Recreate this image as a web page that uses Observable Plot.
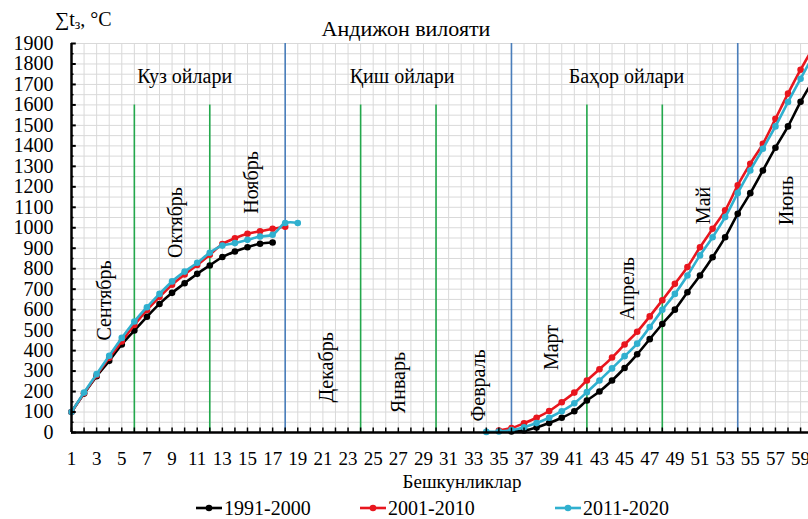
<!DOCTYPE html>
<html><head><meta charset="utf-8">
<script src="https://cdn.jsdelivr.net/npm/d3@7"></script>
<script src="https://cdn.jsdelivr.net/npm/@observablehq/plot@0.6"></script>
<style>
body{margin:0;background:#fff;font-family:"Liberation Serif","Times New Roman",Times,"DejaVu Serif",serif;}
#wrap{position:relative;width:808px;height:519px;overflow:hidden;background:#fff;}
#chart{position:absolute;left:0;top:0;}
.title{position:absolute;left:0;width:812px;top:18px;text-align:center;font-size:22px;line-height:22px;color:#000;}
.ylab{position:absolute;left:55px;top:8px;font-size:20px;line-height:22px;color:#000;}
.ylab sub{font-size:14px;vertical-align:-3px;}
.xlab{position:absolute;left:362px;width:200px;top:471px;text-align:center;font-size:19px;line-height:22px;}
.leg{position:absolute;top:497px;font-size:20px;line-height:22px;display:flex;align-items:center;}
.leg svg{margin-right:2px;}
</style></head><body>
<div id="wrap">
<div id="chart"></div>
<div class="title">Андижон вилояти</div>
<div class="ylab">∑t<sub>з</sub>, °C</div>
<div class="xlab">Бешкунликлар</div>
<div id="legend"></div>
</div>
<script>
const FONT = "'Liberation Serif','Times New Roman',Times,'DejaVu Serif',serif";
// Series
const seriesNames = ["1991-2000", "2001-2010", "2011-2020"];
const seriesColors = ["#000000", "#e8161e", "#30b0cf"];

// Autumn pentads (Sept-Nov)
const autumnPentads = [1,2,3,4,5,6,7,8,9,10,11,12,13,14,15,16,17,18,19];
const autumn1991 = [100,190,275,350,430,498,565,628,682,729,775,816,857,884,905,922,928];
const autumn2001 = [100,192,280,365,445,525,598,662,722,772,818,868,920,949,971,983,995,1005];
const autumn2011 = [100,195,285,375,462,542,612,677,738,786,829,878,913,925,941,957,966,1023,1023];

// Spring pentads (Feb-June)
const springPentads = [34,35,36,37,38,39,40,41,42,43,44,45,46,47,48,49,50,51,52,53,54,55,56,57,58,59,60];
const spring1991 = [null,null,5,10,25,46,72,104,156,200,254,315,382,456,530,600,685,767,856,954,1068,1169,1280,1391,1495,1615,1720];
const spring2001 = [null,10,22,45,72,105,148,195,254,309,366,430,492,567,646,726,808,905,995,1085,1207,1313,1410,1532,1655,1772,1880];
const spring2011 = [3,5,12,26,46,72,104,143,197,254,313,373,434,515,599,677,767,865,954,1052,1169,1280,1386,1495,1614,1728,1840];

// Period boundaries
const seasonBounds = [18, 36, 54];
const monthBounds = [6, 12, 24, 30, 42, 48];

// Annotations
const seasonNames = ["Куз ойлари", "Қиш ойлари", "Баҳор ойлари"];
const seasonX = [10, 27.3, 45.15];
const seasonY = [1740, 1740, 1740];
const monthNames = ["Сентябрь","Октябрь","Ноябрь","Декабрь","Январь","Февраль","Март","Апрель","Май","Июнь"];
const monthX = [3.6, 9.27, 15.3, 21.3, 27.0, 33.4, 39.2, 45.2, 51.3, 57.9];
const monthY = [645, 1026, 1221, 318, 244, 230, 415, 703, 1109, 1133];

// Axis ticks
const xTickLabels = d3.range(1, 60, 2);
const xTicks = d3.range(1, 61, 1);
const yTickLabels = d3.range(0, 1901, 100);
const yMinor = d3.range(50, 1900, 100);

// Build rows
const segs = [
  [seriesNames[0], "a", autumnPentads, autumn1991],
  [seriesNames[1], "a", autumnPentads, autumn2001],
  [seriesNames[2], "a", autumnPentads, autumn2011],
  [seriesNames[0], "s", springPentads, spring1991],
  [seriesNames[1], "s", springPentads, spring2001],
  [seriesNames[2], "s", springPentads, spring2011]
];
const rows = [];
for (const [s, part, xs, vs] of segs) {
  vs.forEach((v, i) => { if (v != null) rows.push({series: s, seg: s + part, x: xs[i], y: v}); });
}
const seasonRows = seasonNames.map((t, i) => ({t, x: seasonX[i], y: seasonY[i]}));
const monthRows = monthNames.map((t, i) => ({t, x: monthX[i], y: monthY[i]}));

const dataMarks = [];
for (const s of seriesNames) {
  const r = rows.filter(d => d.series === s);
  dataMarks.push(Plot.line(r, {x: "x", y: "y", z: "seg", stroke: "series", strokeWidth: 2.6, curve: "catmull-rom"}));
  dataMarks.push(Plot.dot(r, {x: "x", y: "y", fill: "series", r: 3.3}));
}

const chart = Plot.plot({
  width: 808, height: 492,
  marginLeft: 71, marginRight: 0, marginTop: 43, marginBottom: 60,
  x: {domain: [1, 59.63]},
  y: {domain: [0, 1900]},
  color: {domain: seriesNames, range: seriesColors},
  style: {fontFamily: FONT, background: "transparent", color: "#000"},
  marks: [
    Plot.ruleX(xTicks, {stroke: "#d9d9d9", strokeWidth: 1}),
    Plot.ruleY(d3.range(50, 1901, 50), {stroke: "#d9d9d9", strokeWidth: 1}),
    Plot.ruleX(seasonBounds, {y1: 0, y2: 1900, stroke: "#4a7ebb", strokeWidth: 1.6}),
    Plot.ruleX(monthBounds, {y1: 0, y2: 1600, stroke: "#23a84c", strokeWidth: 1.6}),
    Plot.text(seasonRows, {x: "x", y: "y", text: "t", fontSize: 20, fill: "#000", fontFamily: FONT}),
    Plot.text(monthRows, {x: "x", y: "y", text: "t", fontSize: 20, rotate: -90, fill: "#000", fontFamily: FONT}),
    ...dataMarks,
    Plot.ruleX(xTicks, {y1: 0, y2: 22, stroke: "#000", strokeWidth: 1.5}),
    Plot.ruleY(yTickLabels, {x1: 1, x2: 1.38, stroke: "#000", strokeWidth: 2}),
    Plot.ruleY(yMinor, {x1: 1, x2: 1.2, stroke: "#000", strokeWidth: 1.5}),
    Plot.ruleY([0], {stroke: "#000", strokeWidth: 2.5}),
    Plot.ruleX([1], {stroke: "#000", strokeWidth: 2.5}),
    Plot.axisX(xTickLabels, {tickSize: 0, tickPadding: 19, fontSize: 19, label: null, tickFormat: d => String(d), fontFamily: FONT}),
    Plot.axisY(yTickLabels, {tickSize: 0, tickPadding: 18, fontSize: 20, label: null, tickFormat: d => String(d), fontFamily: FONT})
  ]
});
document.getElementById("chart").appendChild(chart);

// Legend
const legend = document.getElementById("legend");
const legX = [196, 360, 555];
seriesNames.forEach((s, i) => {
  const item = document.createElement("div");
  item.className = "leg";
  item.style.left = legX[i] + "px";
  const c = seriesColors[i];
  item.innerHTML = `<svg width="26" height="10"><line x1="0" y1="5" x2="26" y2="5" stroke="${c}" stroke-width="2.6"/><circle cx="13" cy="5" r="3.3" fill="${c}"/></svg><span>${s}</span>`;
  legend.appendChild(item);
});
</script>
</body></html>
